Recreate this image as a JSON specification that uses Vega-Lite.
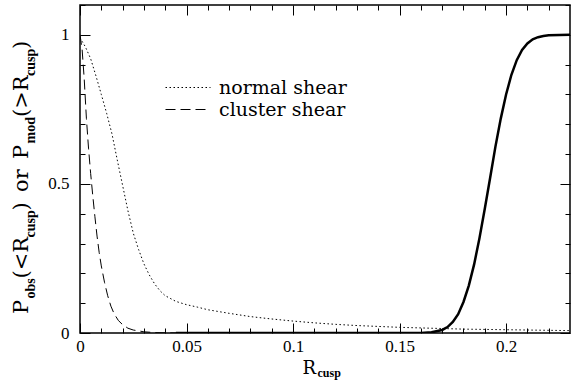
{
  "$schema": "https://vega.github.io/schema/vega-lite/v6.json",
  "width": 490,
  "height": 328,
  "autosize": {"type": "none"},
  "padding": {"left": 80, "top": 5, "right": 1, "bottom": 57},
  "background": "white",
  "datasets": {
    "model": [
      {"R": 0.045, "P": 0}, {"R": 0.15, "P": 0}, {"R": 0.155, "P": 0.0001}, {"R": 0.16, "P": 0.0004},
      {"R": 0.165, "P": 0.0023}, {"R": 0.17, "P": 0.0102}, {"R": 0.1725, "P": 0.02}, {"R": 0.175, "P": 0.037},
      {"R": 0.1775, "P": 0.063}, {"R": 0.18, "P": 0.104}, {"R": 0.1825, "P": 0.159}, {"R": 0.185, "P": 0.23},
      {"R": 0.1875, "P": 0.318}, {"R": 0.19, "P": 0.417}, {"R": 0.1925, "P": 0.52}, {"R": 0.195, "P": 0.625},
      {"R": 0.1975, "P": 0.719}, {"R": 0.2, "P": 0.8}, {"R": 0.2025, "P": 0.866}, {"R": 0.205, "P": 0.915},
      {"R": 0.2075, "P": 0.949}, {"R": 0.21, "P": 0.971}, {"R": 0.2125, "P": 0.985}, {"R": 0.215, "P": 0.992},
      {"R": 0.2175, "P": 0.9963}, {"R": 0.22, "P": 0.9984}, {"R": 0.225, "P": 0.9997}, {"R": 0.23, "P": 1.0}
    ],
    "shear": [
      {"series": "normal shear", "R": 0, "P": 0.99},
      {"series": "normal shear", "R": 0.0025, "P": 0.96},
      {"series": "normal shear", "R": 0.005, "P": 0.92},
      {"series": "normal shear", "R": 0.0075, "P": 0.862},
      {"series": "normal shear", "R": 0.01, "P": 0.8},
      {"series": "normal shear", "R": 0.0125, "P": 0.737},
      {"series": "normal shear", "R": 0.015, "P": 0.668},
      {"series": "normal shear", "R": 0.0175, "P": 0.58},
      {"series": "normal shear", "R": 0.02, "P": 0.495},
      {"series": "normal shear", "R": 0.0225, "P": 0.41},
      {"series": "normal shear", "R": 0.025, "P": 0.335},
      {"series": "normal shear", "R": 0.0275, "P": 0.28},
      {"series": "normal shear", "R": 0.03, "P": 0.232},
      {"series": "normal shear", "R": 0.0325, "P": 0.195},
      {"series": "normal shear", "R": 0.035, "P": 0.165},
      {"series": "normal shear", "R": 0.0375, "P": 0.142},
      {"series": "normal shear", "R": 0.04, "P": 0.125},
      {"series": "normal shear", "R": 0.045, "P": 0.106},
      {"series": "normal shear", "R": 0.05, "P": 0.095},
      {"series": "normal shear", "R": 0.055, "P": 0.087},
      {"series": "normal shear", "R": 0.06, "P": 0.078},
      {"series": "normal shear", "R": 0.07, "P": 0.066},
      {"series": "normal shear", "R": 0.08, "P": 0.055},
      {"series": "normal shear", "R": 0.09, "P": 0.047},
      {"series": "normal shear", "R": 0.1, "P": 0.04},
      {"series": "normal shear", "R": 0.11, "P": 0.034},
      {"series": "normal shear", "R": 0.12, "P": 0.029},
      {"series": "normal shear", "R": 0.13, "P": 0.025},
      {"series": "normal shear", "R": 0.14, "P": 0.022},
      {"series": "normal shear", "R": 0.15, "P": 0.019},
      {"series": "normal shear", "R": 0.16, "P": 0.017},
      {"series": "normal shear", "R": 0.17, "P": 0.015},
      {"series": "normal shear", "R": 0.18, "P": 0.013},
      {"series": "normal shear", "R": 0.19, "P": 0.012},
      {"series": "normal shear", "R": 0.2, "P": 0.011},
      {"series": "normal shear", "R": 0.21, "P": 0.01},
      {"series": "normal shear", "R": 0.22, "P": 0.009},
      {"series": "normal shear", "R": 0.23, "P": 0.008},
      {"series": "cluster shear", "R": 0, "P": 1.0},
      {"series": "cluster shear", "R": 0.001, "P": 0.95},
      {"series": "cluster shear", "R": 0.002, "P": 0.85},
      {"series": "cluster shear", "R": 0.003, "P": 0.72},
      {"series": "cluster shear", "R": 0.004, "P": 0.62},
      {"series": "cluster shear", "R": 0.005, "P": 0.535},
      {"series": "cluster shear", "R": 0.006, "P": 0.46},
      {"series": "cluster shear", "R": 0.007, "P": 0.39},
      {"series": "cluster shear", "R": 0.008, "P": 0.325},
      {"series": "cluster shear", "R": 0.009, "P": 0.27},
      {"series": "cluster shear", "R": 0.01, "P": 0.225},
      {"series": "cluster shear", "R": 0.0115, "P": 0.17},
      {"series": "cluster shear", "R": 0.013, "P": 0.125},
      {"series": "cluster shear", "R": 0.0145, "P": 0.09},
      {"series": "cluster shear", "R": 0.016, "P": 0.065},
      {"series": "cluster shear", "R": 0.018, "P": 0.042},
      {"series": "cluster shear", "R": 0.02, "P": 0.028},
      {"series": "cluster shear", "R": 0.0225, "P": 0.016},
      {"series": "cluster shear", "R": 0.025, "P": 0.01},
      {"series": "cluster shear", "R": 0.03, "P": 0.004},
      {"series": "cluster shear", "R": 0.035, "P": 0.0015},
      {"series": "cluster shear", "R": 0.04, "P": 0.0005},
      {"series": "cluster shear", "R": 0.05, "P": 0},
      {"series": "cluster shear", "R": 0.06, "P": 0}
    ]
  },
  "layer": [
    {
      "data": {"name": "model"},
      "mark": {"type": "line", "color": "black", "strokeWidth": 2.5, "clip": true},
      "encoding": {
        "x": {"field": "R", "type": "quantitative", "scale": {"domain": [0, 0.23], "nice": false, "zero": false},
              "axis": {"orient": "bottom", "values": [0, 0.05, 0.1, 0.15, 0.2], "tickSize": -10, "labelPadding": 15, "format": "~g", "labelFlush": false, "title": null}},
        "y": {"field": "P", "type": "quantitative", "scale": {"domain": [0, 1.1], "nice": false, "zero": false},
              "axis": {"orient": "left", "values": [0, 0.5, 1], "tickSize": -10, "labelPadding": 21, "format": "~g", "labelFlush": false, "title": null}}
      }
    },
    {
      "data": {"name": "shear"},
      "mark": {"type": "line", "color": "black", "strokeWidth": 1, "clip": true},
      "encoding": {
        "x": {"field": "R", "type": "quantitative", "scale": {"domain": [0, 0.23], "nice": false, "zero": false},
              "axis": {"orient": "bottom", "values": [0.01, 0.02, 0.03, 0.04, 0.06, 0.07, 0.08, 0.09, 0.11, 0.12, 0.13, 0.14, 0.16, 0.17, 0.18, 0.19, 0.21, 0.22], "tickSize": -5, "labels": false, "title": null}},
        "y": {"field": "P", "type": "quantitative", "scale": {"domain": [0, 1.1], "nice": false, "zero": false},
              "axis": {"orient": "left", "values": [0.1, 0.2, 0.3, 0.4, 0.6, 0.7, 0.8, 0.9, 1.1], "tickSize": -5, "labels": false, "title": null}},
        "strokeDash": {"field": "series", "type": "nominal",
          "scale": {"domain": ["normal shear", "cluster shear"], "range": [[1.5, 2.5], [10, 5]]},
          "legend": {"orient": "none", "legendX": 97.5, "legendY": 72, "title": null, "symbolType": "M-2.25,0H2.25", "symbolSize": 400,
                     "symbolStrokeColor": "black", "symbolStrokeWidth": 1, "labelFont": "DejaVu Serif", "labelFontSize": 19,
                     "labelColor": "black", "labelOffset": 20.5, "rowPadding": 1, "padding": 0}}
      }
    },
    {
      "data": {"name": "model"},
      "mark": {"type": "point", "opacity": 0},
      "encoding": {
        "x": {"field": "R", "type": "quantitative", "scale": {"domain": [0, 0.23], "nice": false, "zero": false},
              "axis": {"orient": "top", "values": [0, 0.05, 0.1, 0.15, 0.2], "tickSize": -10, "labels": false, "title": null}},
        "y": {"field": "P", "type": "quantitative", "scale": {"domain": [0, 1.1], "nice": false, "zero": false},
              "axis": {"orient": "right", "values": [0, 0.5, 1], "tickSize": -10, "labels": false, "title": null}}
      }
    },
    {
      "data": {"name": "model"},
      "mark": {"type": "point", "opacity": 0},
      "encoding": {
        "x": {"field": "R", "type": "quantitative", "scale": {"domain": [0, 0.23], "nice": false, "zero": false},
              "axis": {"orient": "top", "values": [0.01, 0.02, 0.03, 0.04, 0.06, 0.07, 0.08, 0.09, 0.11, 0.12, 0.13, 0.14, 0.16, 0.17, 0.18, 0.19, 0.21, 0.22], "tickSize": -5, "labels": false, "title": null}},
        "y": {"field": "P", "type": "quantitative", "scale": {"domain": [0, 1.1], "nice": false, "zero": false},
              "axis": {"orient": "right", "values": [0.1, 0.2, 0.3, 0.4, 0.6, 0.7, 0.8, 0.9, 1.1], "tickSize": -5, "labels": false, "title": null}}
      }
    },
    {
      "data": {"name": "model"},
      "mark": {"type": "point", "opacity": 0},
      "encoding": {
        "x": {"field": "R", "type": "quantitative", "scale": {"domain": [0, 0.23], "nice": false, "zero": false},
              "axis": {"orient": "bottom", "ticks": false, "labels": false, "title": "R", "titleX": 222, "titleY": 40, "titleAngle": 0, "titleAlign": "left", "titleBaseline": "alphabetic"}},
        "y": {"field": "P", "type": "quantitative", "scale": {"domain": [0, 1.1], "nice": false, "zero": false},
              "axis": {"orient": "left", "ticks": false, "labels": false, "title": "P", "titleX": -53, "titleY": 308.5, "titleAngle": -90, "titleAlign": "left", "titleBaseline": "alphabetic", "titleFontSize": 21}}
      }
    },
    {
      "data": {"name": "model"},
      "mark": {"type": "point", "opacity": 0},
      "encoding": {
        "x": {"field": "R", "type": "quantitative", "scale": {"domain": [0, 0.23], "nice": false, "zero": false},
              "axis": {"orient": "bottom", "ticks": false, "labels": false, "title": "cusp", "titleX": 237, "titleY": 43.5, "titleAngle": 0, "titleAlign": "left", "titleBaseline": "alphabetic", "titleFont": "Liberation Serif", "titleFontWeight": "bold", "titleFontSize": 12}},
        "y": {"field": "P", "type": "quantitative", "scale": {"domain": [0, 1.1], "nice": false, "zero": false},
              "axis": {"orient": "left", "ticks": false, "labels": false, "title": "obs", "titleX": -46, "titleY": 293, "titleAngle": -90, "titleAlign": "left", "titleBaseline": "alphabetic", "titleFont": "Liberation Serif", "titleFontWeight": "bold", "titleFontSize": 14}}
      }
    },
    {
      "data": {"name": "model"},
      "mark": {"type": "point", "opacity": 0},
      "encoding": {
        "x": {"field": "R", "type": "quantitative", "scale": {"domain": [0, 0.23], "nice": false, "zero": false}, "axis": null},
        "y": {"field": "P", "type": "quantitative", "scale": {"domain": [0, 1.1], "nice": false, "zero": false},
              "axis": {"orient": "left", "ticks": false, "labels": false, "title": "(<R", "titleX": -53, "titleY": 273, "titleAngle": -90, "titleAlign": "left", "titleBaseline": "alphabetic", "titleFontSize": 21}}
      }
    },
    {
      "data": {"name": "model"},
      "mark": {"type": "point", "opacity": 0},
      "encoding": {
        "x": {"field": "R", "type": "quantitative", "scale": {"domain": [0, 0.23], "nice": false, "zero": false}, "axis": null},
        "y": {"field": "P", "type": "quantitative", "scale": {"domain": [0, 1.1], "nice": false, "zero": false},
              "axis": {"orient": "left", "ticks": false, "labels": false, "title": "cusp", "titleX": -46, "titleY": 232, "titleAngle": -90, "titleAlign": "left", "titleBaseline": "alphabetic", "titleFont": "Liberation Serif", "titleFontWeight": "bold", "titleFontSize": 14}}
      }
    },
    {
      "data": {"name": "model"},
      "mark": {"type": "point", "opacity": 0},
      "encoding": {
        "x": {"field": "R", "type": "quantitative", "scale": {"domain": [0, 0.23], "nice": false, "zero": false}, "axis": null},
        "y": {"field": "P", "type": "quantitative", "scale": {"domain": [0, 1.1], "nice": false, "zero": false},
              "axis": {"orient": "left", "ticks": false, "labels": false, "title": ")", "titleX": -53, "titleY": 205, "titleAngle": -90, "titleAlign": "left", "titleBaseline": "alphabetic", "titleFontSize": 21}}
      }
    },
    {
      "data": {"name": "model"},
      "mark": {"type": "point", "opacity": 0},
      "encoding": {
        "x": {"field": "R", "type": "quantitative", "scale": {"domain": [0, 0.23], "nice": false, "zero": false}, "axis": null},
        "y": {"field": "P", "type": "quantitative", "scale": {"domain": [0, 1.1], "nice": false, "zero": false},
              "axis": {"orient": "left", "ticks": false, "labels": false, "title": "or", "titleX": -53, "titleY": 186.5, "titleAngle": -90, "titleAlign": "left", "titleBaseline": "alphabetic", "titleFontSize": 21}}
      }
    },
    {
      "data": {"name": "model"},
      "mark": {"type": "point", "opacity": 0},
      "encoding": {
        "x": {"field": "R", "type": "quantitative", "scale": {"domain": [0, 0.23], "nice": false, "zero": false}, "axis": null},
        "y": {"field": "P", "type": "quantitative", "scale": {"domain": [0, 1.1], "nice": false, "zero": false},
              "axis": {"orient": "left", "ticks": false, "labels": false, "title": "P", "titleX": -53, "titleY": 153.5, "titleAngle": -90, "titleAlign": "left", "titleBaseline": "alphabetic", "titleFontSize": 21}}
      }
    },
    {
      "data": {"name": "model"},
      "mark": {"type": "point", "opacity": 0},
      "encoding": {
        "x": {"field": "R", "type": "quantitative", "scale": {"domain": [0, 0.23], "nice": false, "zero": false}, "axis": null},
        "y": {"field": "P", "type": "quantitative", "scale": {"domain": [0, 1.1], "nice": false, "zero": false},
              "axis": {"orient": "left", "ticks": false, "labels": false, "title": "mod", "titleX": -46, "titleY": 138, "titleAngle": -90, "titleAlign": "left", "titleBaseline": "alphabetic", "titleFont": "Liberation Serif", "titleFontWeight": "bold", "titleFontSize": 14}}
      }
    },
    {
      "data": {"name": "model"},
      "mark": {"type": "point", "opacity": 0},
      "encoding": {
        "x": {"field": "R", "type": "quantitative", "scale": {"domain": [0, 0.23], "nice": false, "zero": false}, "axis": null},
        "y": {"field": "P", "type": "quantitative", "scale": {"domain": [0, 1.1], "nice": false, "zero": false},
              "axis": {"orient": "left", "ticks": false, "labels": false, "title": "(>R", "titleX": -53, "titleY": 111.5, "titleAngle": -90, "titleAlign": "left", "titleBaseline": "alphabetic", "titleFontSize": 21}}
      }
    },
    {
      "data": {"name": "model"},
      "mark": {"type": "point", "opacity": 0},
      "encoding": {
        "x": {"field": "R", "type": "quantitative", "scale": {"domain": [0, 0.23], "nice": false, "zero": false}, "axis": null},
        "y": {"field": "P", "type": "quantitative", "scale": {"domain": [0, 1.1], "nice": false, "zero": false},
              "axis": {"orient": "left", "ticks": false, "labels": false, "title": "cusp", "titleX": -46, "titleY": 70.5, "titleAngle": -90, "titleAlign": "left", "titleBaseline": "alphabetic", "titleFont": "Liberation Serif", "titleFontWeight": "bold", "titleFontSize": 14}}
      }
    },
    {
      "data": {"name": "model"},
      "mark": {"type": "point", "opacity": 0},
      "encoding": {
        "x": {"field": "R", "type": "quantitative", "scale": {"domain": [0, 0.23], "nice": false, "zero": false}, "axis": null},
        "y": {"field": "P", "type": "quantitative", "scale": {"domain": [0, 1.1], "nice": false, "zero": false},
              "axis": {"orient": "left", "ticks": false, "labels": false, "title": ")", "titleX": -53, "titleY": 43.5, "titleAngle": -90, "titleAlign": "left", "titleBaseline": "alphabetic", "titleFontSize": 21}}
      }
    }
  ],
  "resolve": {"axis": {"x": "independent", "y": "independent"}},
  "config": {
    "view": {"stroke": "black", "strokeWidth": 1.5},
    "axis": {"grid": false, "domain": false, "tickColor": "black", "tickWidth": 1, "labelColor": "black",
             "labelFont": "Liberation Serif", "labelFontSize": 17, "titleColor": "black", "titleFont": "DejaVu Serif",
             "titleFontSize": 18, "titleFontWeight": "normal", "titlePadding": 0},
    "legend": {"labelFont": "DejaVu Serif", "labelColor": "black"}
  }
}
